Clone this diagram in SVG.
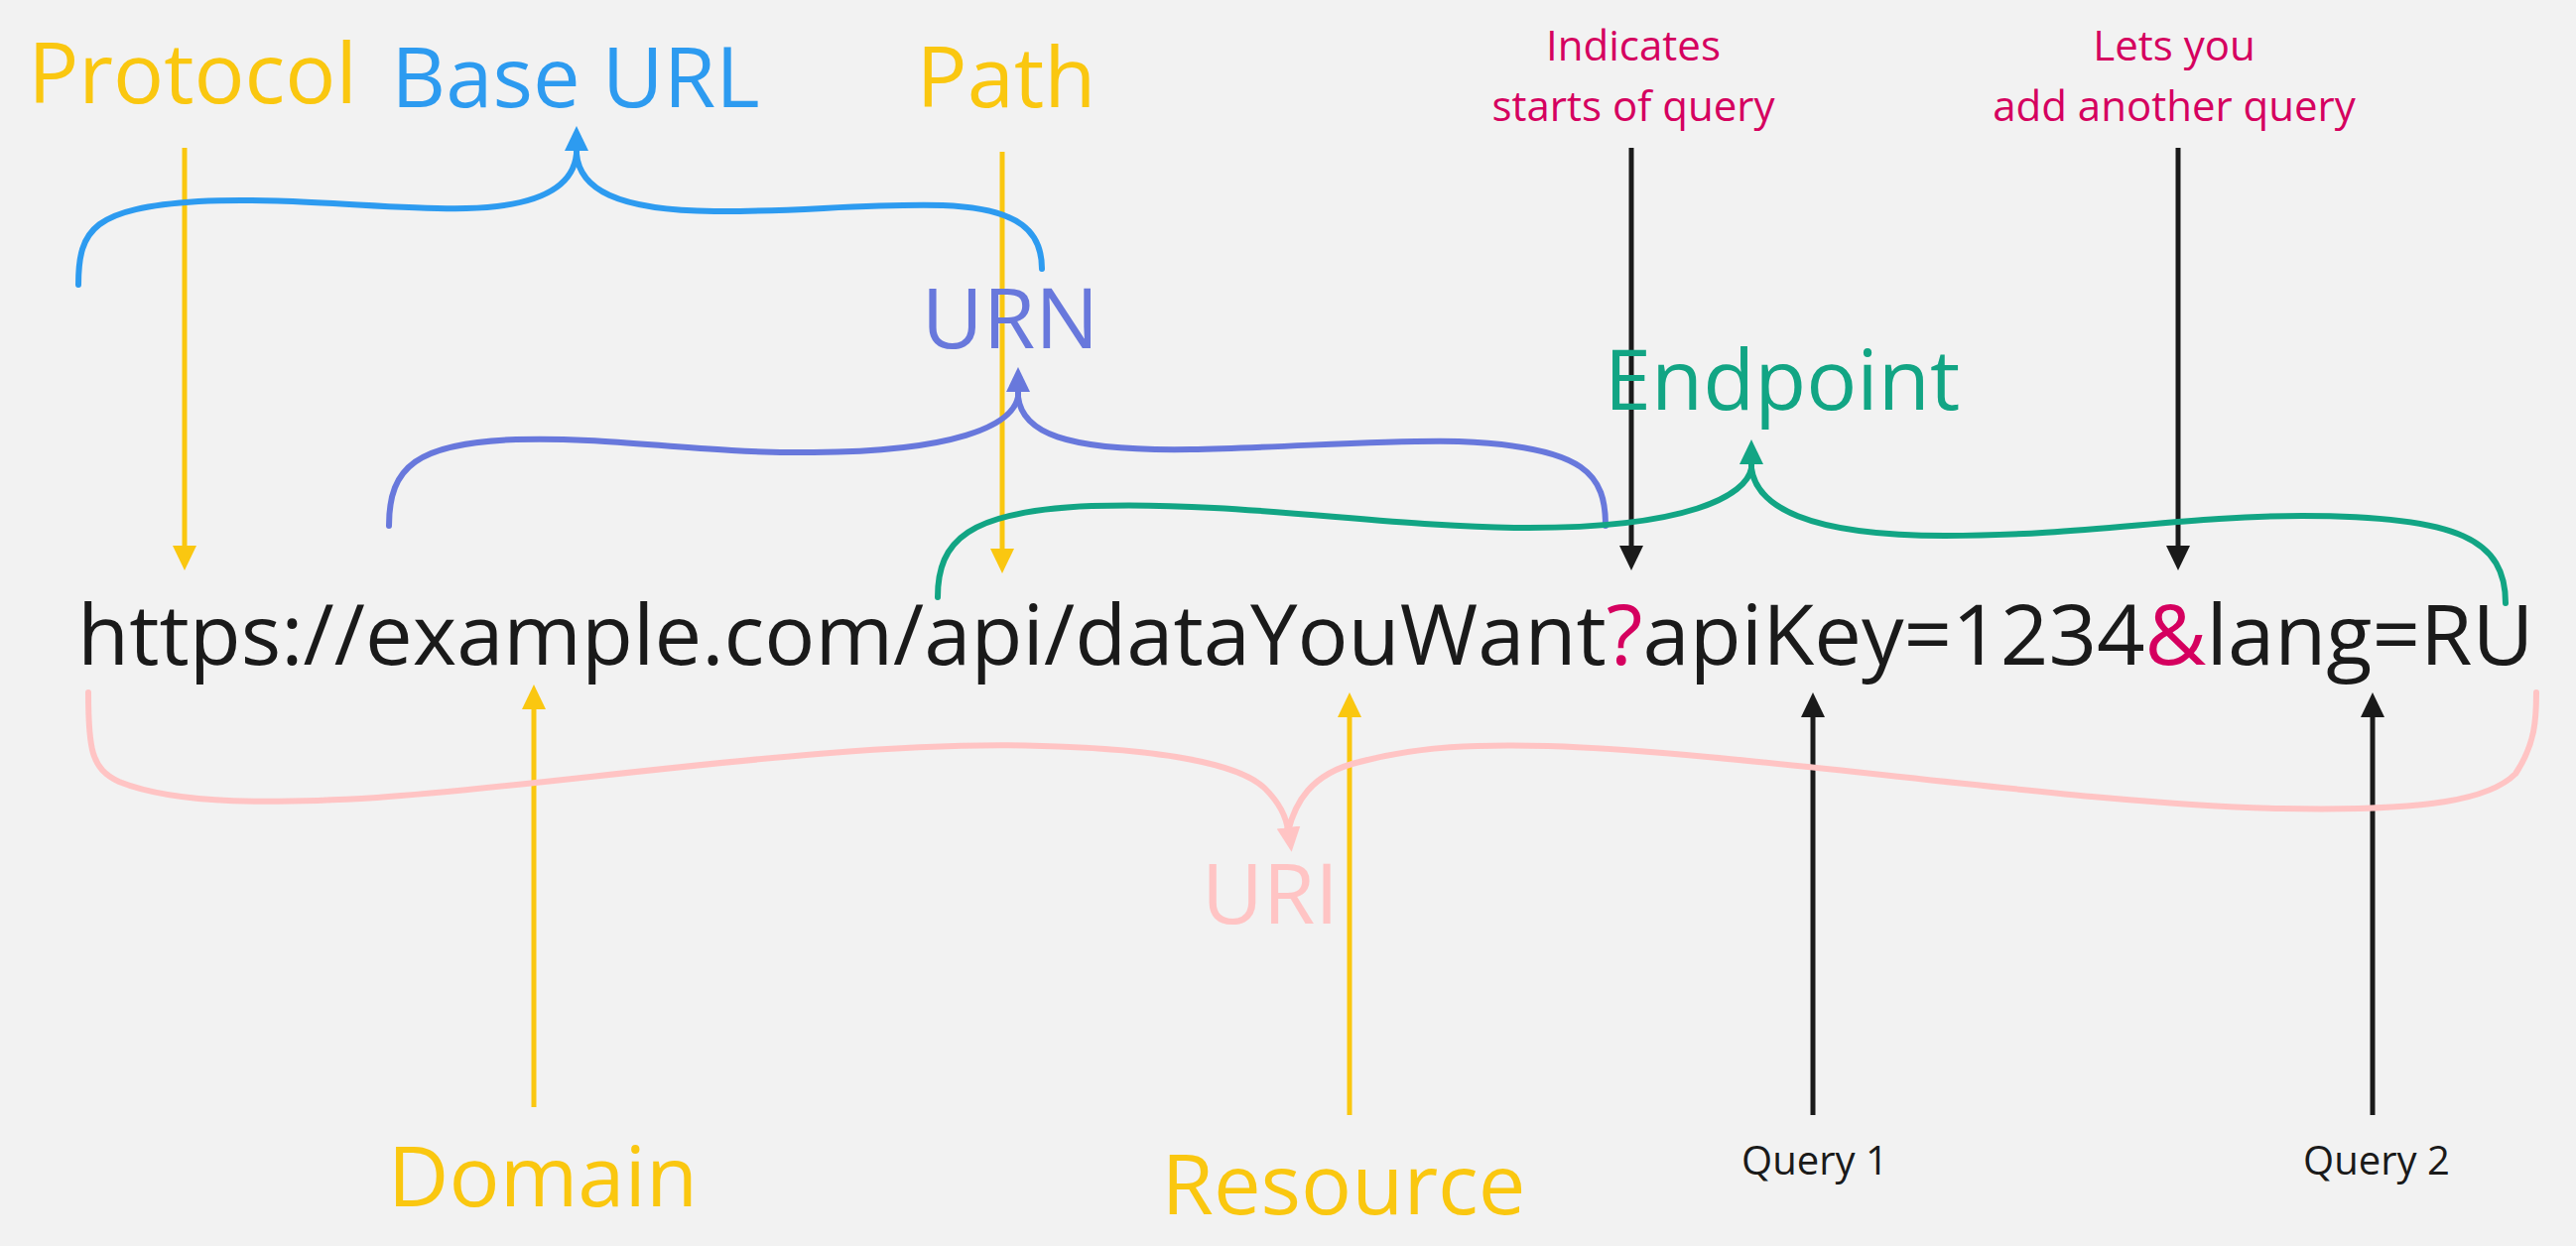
<svg xmlns="http://www.w3.org/2000/svg" width="2596" height="1256" viewBox="0 0 2596 1256">
<defs>
<style>
text{font-family:"Open Sans","Noto Sans","DejaVu Sans",sans-serif;}
.big{font-size:85px;}
.small{font-size:42px;fill:#d5005f;text-anchor:middle;}
.q{font-size:40px;fill:#1a1a1a;text-anchor:middle;}
.mid{text-anchor:middle;}
.yel{fill:#fac710;}
.line{fill:none;stroke-linecap:butt;}
.ly{stroke:#fac710;stroke-width:5;}
.lk{stroke:#1a1a1a;stroke-width:5;}
.brace{fill:none;stroke-width:6;stroke-linecap:round;}
</style>
<marker id="ay" viewBox="0 0 25 24" refX="0" refY="12" markerWidth="25" markerHeight="24" markerUnits="userSpaceOnUse" orient="auto"><path d="M0,0 L25,12 L0,24 Z" fill="#fac710"/></marker>
<marker id="ak" viewBox="0 0 25 24" refX="0" refY="12" markerWidth="25" markerHeight="24" markerUnits="userSpaceOnUse" orient="auto"><path d="M0,0 L25,12 L0,24 Z" fill="#1a1a1a"/></marker>
<marker id="ab" viewBox="0 0 25 24" refX="0" refY="12" markerWidth="25" markerHeight="24" markerUnits="userSpaceOnUse" orient="auto"><path d="M0,0 L25,12 L0,24 Z" fill="#2d9bf0"/></marker>
<marker id="ap" viewBox="0 0 25 24" refX="0" refY="12" markerWidth="25" markerHeight="24" markerUnits="userSpaceOnUse" orient="auto"><path d="M0,0 L25,12 L0,24 Z" fill="#6878dc"/></marker>
<marker id="at" viewBox="0 0 25 24" refX="0" refY="12" markerWidth="25" markerHeight="24" markerUnits="userSpaceOnUse" orient="auto"><path d="M0,0 L25,12 L0,24 Z" fill="#12a584"/></marker>
<marker id="ar" viewBox="0 0 25 24" refX="0" refY="12" markerWidth="25" markerHeight="24" markerUnits="userSpaceOnUse" orient="auto"><path d="M0,0 L25,12 L0,24 Z" fill="#ffc4c4"/></marker>
</defs>
<rect width="2596" height="1256" fill="#f2f2f2"/>

<g id="connectors">
  <!-- straight arrows -->
  <path class="line ly" d="M186 149 L186 550" marker-end="url(#ay)"/>
  <path class="line ly" d="M1010 153 L1010 553" marker-end="url(#ay)"/>
  <path class="line lk" d="M1644 149 L1644 550" marker-end="url(#ak)"/>
  <path class="line lk" d="M2195 149 L2195 550" marker-end="url(#ak)"/>
  <path class="line ly" d="M538 1116 L538 715" marker-end="url(#ay)"/>
  <path class="line ly" d="M1360 1124 L1360 723" marker-end="url(#ay)"/>
  <path class="line lk" d="M1827 1124 L1827 723" marker-end="url(#ak)"/>
  <path class="line lk" d="M2391 1124 L2391 723" marker-end="url(#ak)"/>
  <!-- Base URL brace -->
  <g stroke="#2d9bf0">
    <path class="brace" d="M79 287 C79 230 95 210 200 203 C290 198 400 212 470 210 C550 208 578 185 581 155"/>
    <path class="brace" d="M581 155 C584 190 620 212 720 213 C800 214 870 205 950 207 C1030 210 1050 235 1050 271"/>
    <path class="line" stroke-width="6" d="M581 160 L581 152" marker-end="url(#ab)"/>
  </g>
  <!-- URN brace -->
  <g stroke="#6878dc">
    <path class="brace" d="M392 530 C392 470 420 447 520 443 C620 440 700 457 820 456 C960 455 1020 430 1026 400"/>
    <path class="brace" d="M1026 400 C1030 435 1070 455 1200 453 C1300 451 1400 443 1470 445 C1600 450 1618 480 1618 530"/>
    <path class="line" stroke-width="6" d="M1026 405 L1026 395" marker-end="url(#ap)"/>
  </g>
  <!-- Endpoint brace -->
  <g stroke="#12a584">
    <path class="brace" d="M945 602 C945 545 975 515 1100 510 C1250 505 1400 532 1540 532 C1700 532 1760 500 1765 472"/>
    <path class="brace" d="M1765 472 C1770 510 1820 540 1960 540 C2100 540 2200 520 2320 520 C2480 520 2525 545 2525 608"/>
    <path class="line" stroke-width="6" d="M1765 478 L1765 468" marker-end="url(#at)"/>
  </g>
  <!-- URI brace -->
  <g stroke="#ffc4c4">
    <path class="brace" d="M89 698 C89 755 92 775 120 788 C180 812 280 810 380 804 C560 792 850 745 1050 752 C1170 755 1250 770 1275 795 C1292 812 1297 828 1298 838"/>
    <path class="brace" d="M1298 838 C1305 810 1320 780 1370 768 C1430 752 1490 750 1560 752 C1760 758 2100 812 2300 815 C2450 818 2510 805 2535 780 C2555 750 2556 725 2556 698"/>
    <path class="line" stroke-width="6" d="M1297.5 826 L1298.5 834" marker-end="url(#ar)"/>
  </g>
</g>

<g id="url">
  <text class="big" x="78" y="670" fill="#1a1a1a">https://example.com/api/dataYouWant<tspan fill="#d5005f">?</tspan>apiKey=1234<tspan fill="#d5005f">&amp;</tspan>lang=RU</text>
</g>
<g id="protocol"><text class="big mid yel" x="194" y="104">Protocol</text></g>
<g id="base-url"><text class="big mid" x="580" y="108" fill="#2d9bf0">Base URL</text></g>
<g id="path"><text class="big mid yel" x="1014" y="108">Path</text></g>
<g id="urn"><text class="big mid" x="1018" y="351" fill="#6878dc">URN</text></g>
<g id="endpoint"><text class="big mid" x="1796" y="413" fill="#12a584">Endpoint</text></g>
<g id="uri"><text class="big mid" x="1280" y="931" fill="#ffc4c4">URI</text></g>
<g id="domain"><text class="big mid yel" x="547" y="1216">Domain</text></g>
<g id="resource"><text class="big mid yel" x="1354" y="1224">Resource</text></g>
<g id="query-start"><text class="small" x="1646" y="61">Indicates</text><text class="small" x="1646" y="122">starts of query</text></g>
<g id="query-add"><text class="small" x="2191" y="61">Lets you</text><text class="small" x="2191" y="122">add another query</text></g>
<g id="query1"><text class="q" x="1829" y="1184">Query 1</text></g>
<g id="query2"><text class="q" x="2395" y="1184">Query 2</text></g>
</svg>
